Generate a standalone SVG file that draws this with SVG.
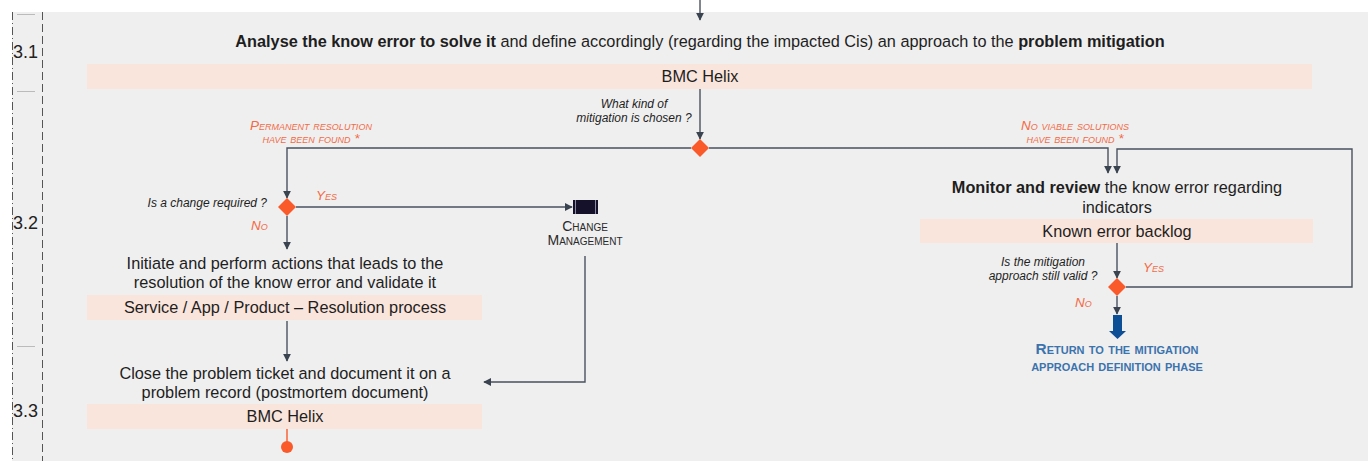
<svg xmlns="http://www.w3.org/2000/svg" width="1368" height="461" viewBox="0 0 1368 461">
  <defs>
    <marker id="arrow" viewBox="0 0 10 10" refX="9" refY="5" markerWidth="8" markerHeight="8" markerUnits="userSpaceOnUse" orient="auto">
      <path d="M0,0 L10,5 L0,10 Z" fill="#3a4350"/>
    </marker>
    <style>
      .lane { fill: #efefef; }
      .tool { fill: #fae5dc; }
      .edge { fill: none; stroke: #4a5260; stroke-width: 1.4; }
      .body { font-family: "Liberation Sans", Arial, sans-serif; font-size: 16.3px; fill: #1e1e1e; text-anchor: middle; }
      .b { font-weight: bold; }
      .q { font-family: "Liberation Sans", Arial, sans-serif; font-size: 12px; font-style: italic; fill: #1e1e1e; text-anchor: middle; }
      .q.end { text-anchor: end; }
      .cond { font-family: "Liberation Sans", Arial, sans-serif; font-size: 13.5px; font-style: italic; font-variant: small-caps; fill: #f26b47; }
      .cond.mid { text-anchor: middle; }
      .ref { font-family: "Liberation Sans", Arial, sans-serif; font-size: 14px; font-variant: small-caps; fill: #2a2a2a; text-anchor: middle; }
      .ret { font-family: "Liberation Sans", Arial, sans-serif; font-size: 15.4px; font-weight: bold; font-variant: small-caps; fill: #3b73ad; text-anchor: middle; }
      .gw { fill: #fa5a2a; }
      .step { font-family: "Liberation Sans", Arial, sans-serif; font-size: 18px; fill: #222; }
      .sep { stroke: #555; stroke-width: 1; fill: none; }
    </style>
  </defs>

  <!-- canvas -->
  <rect width="1368" height="461" fill="#ffffff"/>
  <rect class="lane" x="12" y="12" width="1356" height="449"/>

  <!-- step column -->
  <g id="steps">
    <line class="sep" x1="12.5" y1="12" x2="12.5" y2="461" stroke-dasharray="8,3,1,3"/>
    <line class="sep" x1="42.5" y1="12" x2="42.5" y2="461" stroke-dasharray="8,4"/>
    <line x1="17" y1="14.5" x2="35" y2="14.5" stroke="#bbb" stroke-width="1"/>
    <line x1="17" y1="91.5" x2="35" y2="91.5" stroke="#bbb" stroke-width="1"/>
    <line x1="17" y1="346.5" x2="35" y2="346.5" stroke="#bbb" stroke-width="1"/>
    <text class="step" x="13" y="58">3.1</text>
    <text class="step" x="13" y="229">3.2</text>
    <text class="step" x="13" y="417">3.3</text>
  </g>

  <!-- connectors -->
  <g id="connectors">
    <line class="edge" x1="700" y1="0" x2="700" y2="20" marker-end="url(#arrow)"/>
    <line class="edge" x1="700" y1="89" x2="700" y2="139" marker-end="url(#arrow)"/>
    <polyline class="edge" points="691,148 287,148 287,198" marker-end="url(#arrow)"/>
    <polyline class="edge" points="709,148 1108,148 1108,173" marker-end="url(#arrow)"/>
    <polyline class="edge" points="1126,287 1352,287 1352,149 1117,149 1117,173" marker-end="url(#arrow)"/>
    <line class="edge" x1="296" y1="207" x2="572" y2="207" marker-end="url(#arrow)"/>
    <line class="edge" x1="287" y1="216" x2="287" y2="249" marker-end="url(#arrow)"/>
    <line class="edge" x1="287" y1="321" x2="287" y2="361" marker-end="url(#arrow)"/>
    <polyline class="edge" points="585,256 585,382 484,382" marker-end="url(#arrow)"/>
    <line class="edge" x1="1117" y1="243" x2="1117" y2="278" marker-end="url(#arrow)"/>
    <line class="edge" x1="1117" y1="296" x2="1117" y2="314" marker-end="url(#arrow)"/>
    <line x1="287" y1="429" x2="287" y2="443" stroke="#fa5a2a" stroke-width="1.4"/>
  </g>

  <!-- 3.1 analyse -->
  <g id="analyse">
    <text class="body" x="700" y="47"><tspan class="b">Analyse the know error to solve it</tspan> and define accordingly (regarding the impacted Cis) an approach to the <tspan class="b">problem mitigation</tspan></text>
    <rect class="tool" x="87" y="64" width="1225" height="25"/>
    <text class="body" x="700" y="82">BMC Helix</text>
  </g>

  <!-- mitigation choice -->
  <g id="mitigation-choice">
    <polygon class="gw" points="700,139 709,148 700,157 691,148"/>
    <text class="q" x="634" y="108">What kind of</text>
    <text class="q" x="634" y="122">mitigation is chosen ?</text>
    <text class="cond mid" x="311" y="130">Permanent resolution</text>
    <text class="cond mid" x="311" y="143">have been found *</text>
    <text class="cond mid" x="1075" y="130">No viable solutions</text>
    <text class="cond mid" x="1075" y="143">have been found *</text>
  </g>

  <!-- change decision -->
  <g id="change-decision">
    <polygon class="gw" points="287,198 296,207 287,216 278,207"/>
    <text class="q end" x="267" y="207">Is a change required ?</text>
    <text class="cond" x="316" y="200">Yes</text>
    <text class="cond" x="251" y="230">No</text>
  </g>

  <!-- change management -->
  <g id="change-management">
    <rect x="573" y="200" width="25" height="14" fill="#15112b"/>
    <line x1="575.5" y1="200" x2="575.5" y2="214" stroke="#8a8aa0" stroke-width="1"/>
    <line x1="595.5" y1="200" x2="595.5" y2="214" stroke="#8a8aa0" stroke-width="1"/>
    <text class="ref" x="585" y="231">Change</text>
    <text class="ref" x="585" y="245">Management</text>
  </g>

  <!-- resolution -->
  <g id="resolution">
    <text class="body" x="285" y="269">Initiate and perform actions that leads to the</text>
    <text class="body" x="285" y="288">resolution of the know error and validate it</text>
    <rect class="tool" x="87" y="295" width="395" height="25"/>
    <text class="body" x="285" y="313">Service / App / Product – Resolution process</text>
  </g>

  <!-- 3.3 close -->
  <g id="close">
    <text class="body" x="285" y="379">Close the problem ticket and document it on a</text>
    <text class="body" x="285" y="398">problem record (postmortem document)</text>
    <rect class="tool" x="87" y="404" width="395" height="25"/>
    <text class="body" x="285" y="422">BMC Helix</text>
  </g>

  <!-- end event -->
  <g id="end">
    <circle cx="287" cy="447" r="6" fill="#fa5a2a"/>
  </g>

  <!-- monitor -->
  <g id="monitor">
    <text class="body" x="1117" y="193"><tspan class="b">Monitor and review</tspan> the know error regarding</text>
    <text class="body" x="1117" y="213">indicators</text>
    <rect class="tool" x="920" y="219" width="393" height="24"/>
    <text class="body" x="1117" y="237">Known error backlog</text>
  </g>

  <!-- validity check -->
  <g id="validity-check">
    <polygon class="gw" points="1117,278 1126,287 1117,296 1108,287"/>
    <text class="q" x="1043" y="266">Is the mitigation</text>
    <text class="q" x="1043" y="280">approach still valid ?</text>
    <text class="cond" x="1143" y="272">Yes</text>
    <text class="cond" x="1075" y="307">No</text>
  </g>

  <!-- return to mitigation definition -->
  <g id="return">
    <polygon points="1113,315 1122,315 1122,331 1126,331 1117.5,339 1109,331 1113,331" fill="#0d4f97"/>
    <text class="ret" x="1117" y="354">Return to the mitigation</text>
    <text class="ret" x="1117" y="371">approach definition phase</text>
  </g>
</svg>
